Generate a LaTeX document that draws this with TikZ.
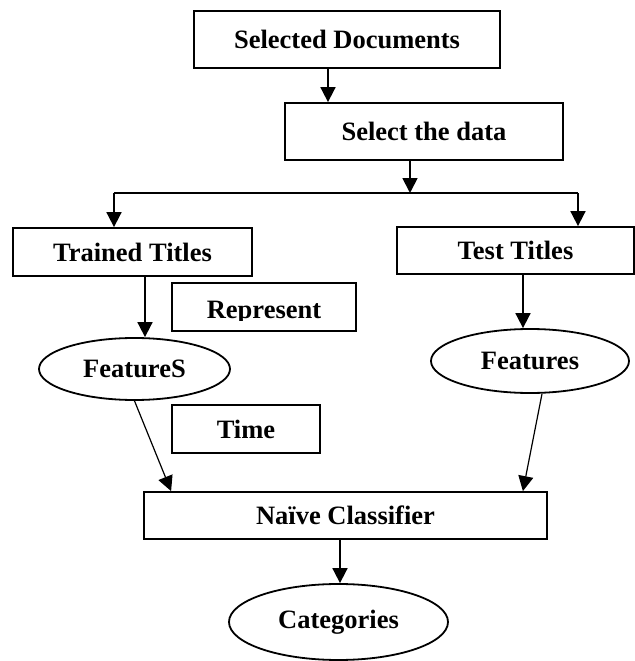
\documentclass[tikz,border=0pt]{standalone}
\usepackage{fontspec}
\setmainfont{Liberation Serif}
\usetikzlibrary{arrows.meta, calc, shapes.geometric}
\definecolor{Ink}{HTML}{000000}
\tikzset{
  blk/.style args={#1/#2}{
    rectangle, draw=Ink, fill=white, text=Ink,
    font=\fontsize{13.25}{16}\selectfont\bfseries, align=center,
    inner sep=0pt, minimum width=#1, minimum height=#2,
    line width=0.9pt,
  },
  ell/.style args={#1/#2}{
    ellipse, draw=Ink, fill=white, text=Ink,
    font=\fontsize{13.25}{16}\selectfont\bfseries, align=center,
    inner sep=0pt, minimum width=#1, minimum height=#2,
    line width=0.9pt,
  },
  lbl/.style={
    font=\fontsize{13.25}{16}\selectfont\bfseries, text=Ink,
    inner sep=0pt,
  },
  arr/.style={
    -{Triangle[length=7.5pt,width=7.5pt]},
    line width=0.9pt, color=Ink,
  },
  sarr/.style={
    -{Triangle[length=7.5pt,width=7.5pt]},
    line width=0.6pt, color=Ink,
  },
}
\begin{document}
\begin{tikzpicture}[x=0.5pt,y=0.5pt]
    \useasboundingbox (0,0) rectangle (635,661);

    \node[blk=153pt/28.5pt] (seldoc)  at (347,621.5) {Selected Documents};
    \node[blk=139pt/28.5pt] (seldata) at (424,529.5) {Select the data};

    \node[blk=119.5pt/24pt] (trained) at (132.5,409) {Trained Titles};
    \node[blk=118.5pt/23.5pt] (test)  at (515.5,410.5) {Test Titles};

    \node[blk=92pt/24pt] (rep) at (264,354) {};
    \begin{scope}
      % the word sits low, its descenders are cut
      \clip ($(rep.south west)+(0,11.5)$) rectangle (rep.north east);
      \node[lbl,anchor=base] (reptxt) at ($(rep.center)+(0,-11)$) {Represent};
    \end{scope}

    \node[ell=95.5pt/31pt] (featL) at (134.5,292) {FeatureS};
    \node[ell=99pt/32pt]   (featR) at (530,300) {Features};
    \node[blk=74pt/24pt]   (time)  at (246,232) {Time};

    \node[blk=201.5pt/23.5pt] (naive) at (345.5,145.5) {Naïve Classifier};
    \node[ell=109.5pt/38pt]   (categ) at (338.5,39) {Categories};

    \coordinate (sdin)  at ($(seldoc.south)+(-19,0)$);
    \coordinate (sdout) at ($(seldata.south)+(-14,0)$);
    \coordinate (busL)  at (114,468);
    \coordinate (busR)  at (578,468);
    \coordinate (trout) at ($(trained.south)+(12.5,0)$);
    \coordinate (tsout) at ($(test.south)+(7.5,0)$);
    \coordinate (fRout) at ($(featR.south)+(12,0)$);
    \coordinate (nvinL) at ($(naive.north west)+(28,0)$);
    \coordinate (nvinR) at ($(naive.north east)+(-25,0)$);
    \coordinate (nvout) at ($(naive.south)+(-5.5,0)$);

    \draw[arr] (sdin) -- (sdin |- seldata.north);
    \draw[arr] (sdout) -- (sdout |- busL);
    \draw[line width=0.9pt] (busL) -- (busR);
    \draw[arr] (busL) -- (busL |- trained.north);
    \draw[arr] (busR) -- (busR |- test.north);

    \draw[arr] (trout) -- (trout |- featL.north);
    \draw[arr] (tsout) -- (tsout |- featR.north);

    \draw[sarr] (featL.south) -- (nvinL);
    \draw[sarr] (fRout) -- (nvinR);
    \draw[arr] (nvout) -- (nvout |- categ.north);

\end{tikzpicture}
\end{document}
